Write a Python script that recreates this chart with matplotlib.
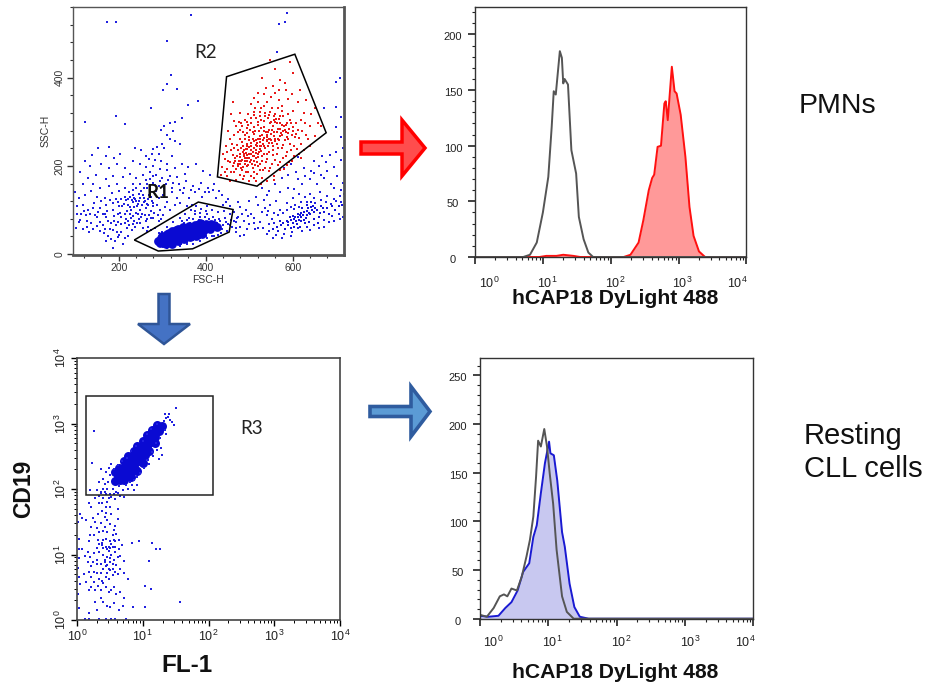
import numpy as np
import matplotlib
matplotlib.use('Agg')
import matplotlib.pyplot as plt
from matplotlib.patches import FancyArrow, Polygon, Rectangle
from matplotlib.ticker import FixedLocator, MultipleLocator, NullFormatter

plt.rcParams['font.family'] = ['Liberation Sans', 'DejaVu Sans']
W, H = 929, 692

# FSC-H / SSC-H, scattered events outside the dense clusters
scatter_far = [(174,527),(193,525),(367,541),(588,547),(583,525),(568,522),(310,482),(565,457),(321,406),(310,386),
 (302,371),(335,374),(382,348),(359,338),(275,332),(193,314),(123,299),(215,294),(708,399),(699,391),(699,334),
 (710,310),(700,289),(710,265),(672,331),(345,308),(330,300),(318,296),(305,290),(298,282),(325,278),(312,270),
 (318,262),(330,256),(340,250),(300,250),(288,243),(280,238),(305,240),(276,226),(292,228),(262,222),(270,215),
 (284,214),(298,212),(310,205),(322,222),(252,236),(238,240),(178,242),(152,240),(138,225),(170,222),(190,218),
 (204,228),(122,212),(135,200),(160,205),(178,196),(196,205),(215,196),(232,210),(248,205),(262,198),(280,200),
 (294,192),(312,190),(330,196),(345,205),(360,198),(378,205),(395,188),(410,180),(352,182),(335,175),(318,178),
 (300,172),(286,180),(272,185),(256,180),(240,172),(226,182),(210,175),(188,178),(170,170),(148,180),(130,172),
 (110,185),(118,160),(140,158),(158,150),(178,155),(196,160),(214,150),(232,158),(250,160),(262,168),(278,162),
 (292,155),(308,160),(322,150),(338,158),(355,165),(372,155),(390,162),(405,150),(420,158),(100,140),(108,128),
 (122,135),(136,142),(150,130),(168,128),(184,138),(200,142),(215,130),(224,140),(232,145),(240,150),(246,136),
 (252,142),(258,128),(266,150),(270,135),(276,120),(285,142),(292,128),(302,135),(312,118),(322,140),(334,128),
 (348,138),(362,128),(376,140),(392,130),(408,140),(424,128),(438,135),(452,125),(105,108),(118,112),(130,100),
 (144,115),(158,105),(172,112),(186,100),(198,118),(208,108),(216,122),(222,112),(228,100),(234,118),(238,126),
 (242,108),(246,120),(250,100),(254,112),(258,118),(262,104),(268,112),(274,98),(280,108),(288,112),(296,100),
 (306,106),(318,100),(330,112),(342,116),(356,108),(368,112),(440,112),(456,108),(112,78),(124,88),(136,70),
 (150,84),(164,92),(176,76),(190,86),(204,94),(216,80),(226,90),(236,76),(244,92),(252,84),(262,74),(270,88),
 (280,82),(292,76),(302,88),(102,60),(118,58),(132,50),(150,64),(166,48),(180,56),(194,66),(206,50),(218,60),
 (230,54),(170,30),(182,34),(198,38),(210,22),(186,14),(222,42),(238,62),(250,70),(268,62),(480,106),(492,100),
 (505,92),(475,84),(488,76),(500,68),(512,82),(480,62),(495,56),(470,50),(514,58),(520,112),(535,122),(530,96),
 (548,112),(562,120),(540,88),(525,72),(552,80),(570,100),(586,116),(600,128),(615,136),(632,118),(648,128),
 (662,140),(678,132),(695,125),(712,118),(720,100),(706,90),(690,86),(672,78),(650,66),(632,62),(612,60),
 (598,50),(580,46),(562,44),(546,52),(604,148),(622,158),(640,170),(656,160),(672,172),(688,160),(702,176),
 (716,162),(530,150),(546,142),(560,160),(575,172),(590,180),(608,186),(625,195),(642,188),(660,200),(676,208),
 (694,198),(710,214),(700,232),(686,225),(668,222),(650,210),(720,222),(716,240),(580,196),(596,204),(612,220)]

# second pass over the busiest part of the left and right background
scatter_far_more = [(232,134),(236,128),(240,120),(244,114),(248,128),(236,106),(230,122),(226,130),(222,124),(256,134),
 (260,120),(264,114),(268,124),(274,130),(280,116),(226,106),(220,98),(212,114),(206,124),(200,110),(194,124),(188,116),
 (180,122),(174,98),(168,92),(160,120),(152,96),(146,88),(140,104),(134,92),(128,76),(120,98),(114,90),(108,72),(104,92),
 (198,92),(206,84),(214,92),(222,74),(228,82),(234,86),(240,94),(246,80),(254,92),(260,88),(266,80),(274,82),(282,94),
 (290,88),(298,80),(156,72),(164,66),(172,84),(182,70),(190,76),(198,72),(206,68),(214,70),(224,66),(232,68),(242,70),
 (256,60),(264,52),(274,54),(284,60),(292,48),(188,54),(196,50),(168,58),(158,52),(142,58),(128,62),(176,42),(192,30),
 (200,44),(214,36),(272,170),(280,176),(264,158),(258,150),(284,156),(296,166),(304,150),(314,168),(326,162),(342,146),
 (350,150),(366,146),(384,148),(398,140),(416,146),(430,142),(446,118),(474,118),(466,96),(470,72),(484,90),(498,86),
 (510,70),(520,60),(532,60),(546,68),(558,70),(536,104),(544,98),(556,94),(566,88),(578,94),(586,100),(596,106),(606,112),
 (618,118),(628,130),(640,136),(652,116),(664,122),(676,118),(688,114),(700,120),(708,132),(718,136),(604,102),(614,106),
 (660,60),(672,62),(684,72),(696,74),(708,80),(716,84),(640,54),(622,52),(596,42),(576,36),(554,36),(542,46),(500,120),
 (515,130),(540,135),(572,140),(590,150),(612,170),(628,176),(648,184),(664,180),(680,188),(696,150),(710,146),(720,150)]

# events around the R1 lymphocyte cluster
scatter_r1 = [(300,50),(312,62),(325,72),(340,82),(352,90),(366,100),(378,110),(390,102),(402,110),(415,100),(428,96),
 (442,98),(455,92),(362,82),(376,90),(388,84),(402,92),(416,84),(430,80),(444,82),(458,78),(334,62),(350,70),(320,48),
 (290,22),(285,32),(296,18),(310,14),(325,16),(340,18),(356,22),(372,24),(388,30),(404,36),(420,42),(436,48),(450,52),
 (460,62),(464,76),(440,66),(426,70),(410,72),(395,76),(380,72),(365,70),(452,68),(470,60),(478,40),(472,82),(488,44),
 (346,76),(356,78),(372,80),(384,78),(398,84),(408,80),(422,78),(434,74),(446,72),(456,66),(412,50),(424,54),(438,58),
 (428,44),(414,40),(400,40),(386,36),(372,32),(358,28),(344,24),(330,22),(316,20),(302,16),(400,98),(388,94),(376,98)]

# dense core of R1, drawn with a heavier marker
core_r1 = [(290,30),(296,26),(302,34),(306,28),(312,38),(316,30),(320,42),(326,34),(330,46),(334,38),(340,50),(344,40),
 (350,52),(354,44),(360,56),(364,46),(370,58),(374,48),(380,60),(384,52),(392,62),(396,54),(404,64),(410,58),(420,66),
 (426,62),(300,42),(310,46),(322,52),(336,58),(348,62),(362,64),(376,66),(388,70),(308,22),(322,24),(336,30),(350,34),
 (364,38),(378,42),(392,46),(298,36),(316,48),(332,54),(344,56),(358,60),(372,62),(384,64),(400,68),(412,68)]

# granulocyte-side cluster, bottom right
scatter_right = [(555,58),(566,52),(574,66),(582,58),(590,72),(596,60),(604,80),(610,68),(616,88),(620,74),(626,96),
 (630,82),(636,104),(640,90),(646,110),(650,96),(656,100),(660,84),(666,108),(672,96),(678,104),(684,92),(690,110),
 (698,100),(706,108),(714,112),(600,86),(612,92),(622,104),(632,112),(642,118),(586,76),(594,84),(570,74),(604,62),
 (616,62),(628,70),(638,72),(648,80),(658,70),(600,70),(608,76),(614,78),(620,84),(625,78),(632,88),(638,94),(644,100),
 (618,94),(624,88),(634,98),(642,106),(652,104),(662,94),(670,104),(606,84),(612,84),(596,78),(590,66),(578,70),(564,62)]

# events inside R2
red_r2 = [(548,440),(560,420),(595,435),(600,410),(530,398),(572,395),(555,380),(585,372),(535,362),(550,355),(520,345),
 (568,350),(590,352),(612,345),(505,340),(480,320),(462,345),(535,335),(552,330),(575,335),(600,325),(625,320),(652,330),
 (510,322),(525,312),(545,315),(560,318),(578,312),(595,305),(618,305),(640,290),(490,305),(505,298),(520,300),(535,302),
 (550,300),(562,306),(572,298),(585,292),(600,288),(612,282),(630,270),(652,268),(470,290),(480,282),(495,285),(510,288),
 (522,280),(535,288),(545,282),(555,290),(566,284),(578,278),(590,275),(605,265),(620,250),(640,245),(465,270),(478,262),
 (490,270),(500,265),(512,272),(520,262),(530,270),(540,265),(550,272),(560,262),(570,268),(582,258),(595,250),(610,238),
 (460,250),(472,248),(484,255),(495,245),(505,252),(515,248),(525,255),(535,245),(545,252),(555,245),(565,250),(575,240),
 (588,232),(602,222),(618,218),(450,232),(462,225),(474,235),(486,232),(495,225),(505,236),(515,230),(525,238),(535,228),
 (545,232),(555,225),(565,228),(578,218),(592,208),(445,215),(455,208),(468,218),(480,220),(490,210),(500,218),(510,212),
 (520,220),(530,210),(540,215),(552,205),(566,202),(580,192),(438,198),(450,192),(462,200),(474,205),(486,198),(498,202),
 (508,195),(520,200),(532,190),(545,188),(558,178),(436,180),(450,176),(465,185),(478,180),(492,186),(505,178),(518,182),
 (530,172),(540,165),(470,168),(486,170),(500,165),(515,165),(455,165),(495,238),(500,242),(505,228),(512,240),(518,244),
 (528,246),(488,222),(492,238),(500,258),(508,262),(516,258),(524,268),(532,258),(538,276),(546,262),(552,282),(558,276),
 (548,296),(556,304),(564,296),(544,276),(490,218),(496,212),(482,210),(476,212),(508,222),(516,218),(522,232)]

# heavy centre of R2, second pass
red_r2_more = [(480,205),(484,214),(488,226),(492,230),(496,218),(500,226),(504,214),(508,232),(512,222),(516,236),(520,228),
 (524,244),(528,234),(532,250),(536,240),(540,256),(544,244),(548,262),(552,252),(556,268),(560,256),(564,276),(568,258),
 (572,284),(576,270),(580,290),(584,276),(588,296),(592,284),(596,298),(540,270),(534,278),(528,286),(520,292),(514,280),
 (508,276),(502,282),(496,274),(490,262),(486,246),(482,240),(478,228),(472,222),(468,212),(464,206),(494,200),(506,205),
 (518,208),(530,222),(542,226),(554,236),(566,240),(578,248),(586,266),(598,270),(560,300),(570,312),(544,308),(536,320),
 (528,304),(516,308),(498,292),(486,276),(474,276),(466,240),(458,236),(452,210),(444,186),(458,186),(470,192),(484,190),
 (498,186),(510,186),(524,190),(536,196),(548,196),(560,214),(572,208),(584,222),(596,236),(604,246),(614,264),(622,280),
 (628,296),(608,298),(590,318),(576,324),(566,330),(542,344),(528,330),(514,332),(498,318),(482,298),(520,366),(560,366),
 (475,200),(482,196),(490,204),(502,208),(514,202),(526,204),(538,208),(488,236),(494,250),(504,244),(510,256),(518,252),
 (526,262),(534,264),(542,258),(550,258),(558,268),(566,262),(574,274),(582,282),(590,262),(600,278),(608,272),(576,292),
 (568,306),(558,312),(548,322),(536,312),(524,322),(512,316),(504,308),(494,300),(484,290),(476,300),(466,302),(458,318),
 (452,280),(456,262),(446,244),(440,226),(512,354),(538,376),(568,372),(582,388),(598,362),(616,372),(630,350),(642,318),
 (658,296),(666,290),(636,262),(626,236),(614,228),(598,212),(586,202),(572,190),(556,168),(528,160),(510,172),(488,176)]

# FL-1 / CD19 as log10 decades, events inside and above the R3 diagonal
cd19_core = [(0.62,2.20),(0.68,2.24),(0.72,2.32),(0.78,2.38),(0.82,2.30),(0.84,2.46),(0.88,2.40),(0.90,2.52),(0.94,2.48),
 (0.96,2.60),(1.00,2.56),(1.02,2.66),(1.06,2.64),(1.08,2.74),(1.12,2.72),(1.14,2.80),(1.18,2.80),(1.20,2.88),(1.24,2.88),
 (1.26,2.94),(1.30,2.96),(0.58,2.12),(0.66,2.14),(0.74,2.20),(0.80,2.24),(0.88,2.30),(0.96,2.42),(1.04,2.52),(0.58,2.26),
 (0.64,2.32),(0.72,2.42),(0.78,2.50),(0.86,2.58),(0.92,2.66),(1.00,2.74),(1.06,2.82),(1.14,2.90),(1.22,2.98),(0.72,2.14),
 (0.82,2.18),(0.92,2.28),(1.00,2.40),(1.10,2.58),(1.18,2.70)]
cd19_edge = [(0.47,2.10),(0.50,2.22),(0.54,2.00),(0.56,2.30),(0.60,1.96),(0.62,2.36),(0.64,2.04),(0.68,2.42),(0.70,1.98),
 (0.74,2.06),(0.76,2.48),(0.80,2.10),(0.82,2.58),(0.86,2.14),(0.90,2.66),(0.92,2.18),(0.96,2.24),(1.00,2.74),(1.02,2.32),
 (1.06,2.84),(1.08,2.44),(1.12,2.92),(1.14,2.56),(1.20,2.70),(1.22,3.00),(1.26,2.78),(1.32,3.04),(1.34,2.90),(1.36,3.08),
 (1.38,3.10),(1.40,3.14),(1.44,3.02),(1.48,2.97),(1.24,2.46),(1.28,2.62),(1.30,2.52),(1.50,3.24),(0.40,2.00),(0.36,1.96),
 (0.44,1.92),(0.48,1.86),(0.52,1.88),(0.58,1.84),(0.66,1.90),(0.72,1.88),(0.34,2.10),(0.40,2.16),(0.44,2.26),(0.20,1.98),
 (0.26,2.88),(0.23,2.40),(0.36,2.30),(0.86,1.98),(0.92,2.06),(1.10,2.38),(0.46,2.00),(0.50,1.92),(0.42,2.08),(0.56,1.92),
 (0.62,1.94),(0.78,2.00),(0.84,2.06),(0.48,2.32),(0.52,2.38),(1.16,2.50),(1.22,2.60),(1.36,2.84),(1.42,3.06),(1.34,3.14)]
cd19_low = [(0.05,1.62),(0.02,1.50),(0.08,1.56),(0.14,1.52),(0.22,1.42),(0.20,1.30),(0.18,1.20),(0.26,1.30),(0.30,1.40),
 (0.32,1.22),(0.38,1.18),(0.40,1.10),(0.44,1.24),(0.46,1.34),(0.50,1.20),(0.54,1.30),(0.58,1.20),(0.60,1.32),(0.64,1.22),
 (0.36,1.48),(0.42,1.58),(0.44,1.72),(0.38,1.66),(0.34,1.78),(0.46,1.80),(0.52,1.62),(0.50,1.46),(0.62,1.54),(0.34,1.90),
 (0.28,1.86),(0.18,1.78),(0.22,1.72),(0.40,1.86),(0.62,1.70),(0.03,1.24),(0.03,1.08),(0.03,0.95),(0.02,0.80),(0.03,0.65),
 (0.05,0.55),(0.02,0.40),(0.03,0.18),(0.08,1.08),(0.12,0.98),(0.16,1.04),(0.20,0.96),(0.24,0.88),(0.26,1.02),(0.30,0.92),
 (0.34,1.04),(0.36,0.86),(0.40,1.00),(0.42,0.92),(0.44,0.82),(0.46,0.96),(0.48,1.06),(0.50,0.88),(0.52,1.00),(0.54,0.78),
 (0.56,0.92),(0.58,1.04),(0.60,0.84),(0.62,0.96),(0.64,1.08),(0.66,0.98),(0.68,1.14),(0.72,0.90),(0.38,1.14),(0.44,1.12),
 (0.48,1.12),(0.54,1.12),(0.58,1.12),(0.36,0.72),(0.40,0.78),(0.46,0.72),(0.50,0.76),(0.54,0.68),(0.58,0.74),(0.62,0.70),
 (0.66,0.78),(0.72,0.72),(0.78,0.62),(0.30,0.72),(0.26,0.74),(0.22,0.66),(0.18,0.74),(0.14,0.58),(0.10,0.70),(0.18,0.46),
 (0.22,0.50),(0.28,0.46),(0.32,0.52),(0.36,0.46),(0.40,0.56),(0.44,0.50),(0.48,0.42),(0.52,0.46),(0.56,0.50),(0.60,0.40),
 (0.66,0.42),(0.72,0.34),(0.36,0.34),(0.40,0.28),(0.28,0.28),(0.30,0.16),(0.46,0.22),(0.50,0.20),(0.56,0.26),(0.64,0.16),
 (0.70,0.22),(0.18,0.10),(0.12,0.02),(0.18,0.02),(0.34,0.02),(0.44,0.02),(0.52,0.02),(0.58,0.02),(0.74,0.02),(0.85,0.20),
 (0.84,1.18),(0.95,1.20),(1.14,1.18),(1.20,1.08),(1.26,1.08),(1.10,0.90),(1.03,0.52),(1.12,0.48),(1.03,0.20),(1.56,0.27),
 (0.30,1.10),(0.34,1.16),(0.40,1.22),(0.46,1.08),(0.50,1.10),(0.52,1.16),(0.56,1.22),(0.42,0.88),(0.46,0.84),(0.48,0.78),
 (0.50,0.94),(0.54,0.86),(0.44,0.66),(0.48,0.62),(0.38,0.60),(0.34,0.62),(0.26,0.58),(0.30,0.86),(0.22,0.82),(0.16,0.88),
 (0.42,1.42),(0.46,1.52),(0.40,1.36),(0.34,1.34),(0.28,1.50),(0.24,1.56),(0.32,1.62),(0.58,1.44),(0.56,1.38),(0.36,1.94),
 (0.42,1.96),(0.50,1.72),(0.44,1.64),(0.38,1.78),(0.30,1.98)]

# histogram traces, x in log10 decades
pmn_grey_x = [0,0.71,0.81,0.91,1.0,1.08,1.13,1.16,1.19,1.25,1.28,1.30,1.32,1.37,1.42,1.49,1.53,1.60,1.67,1.74,4]
pmn_grey_y = [0,0,2,13,40,72,117,149,146,185,179,156,160,155,96,75,36,16,4,0,0]
pmn_red_x = [0,0.95,1.05,1.20,1.30,1.45,1.55,2.19,2.29,2.41,2.48,2.56,2.61,2.64,2.69,2.74,2.79,2.81,2.84,2.90,2.94,2.97,3.03,3.10,3.16,3.22,3.30,3.39,4]
pmn_red_y = [0,0,1,1,2,1,0,0,2,13,33,60,71,74,99,100,138,140,123,171,149,147,128,90,45,19,5,0,0]
cll_grey_x = [0,0.10,0.20,0.29,0.35,0.40,0.46,0.54,0.61,0.68,0.73,0.78,0.82,0.85,0.89,0.94,0.98,1.02,1.07,1.12,1.20,1.27,1.37,4]
cll_grey_y = [4,2,11,23,25,23,31,29,43,64,81,105,146,183,177,195,177,149,118,71,23,7,0,0]
cll_blue_x = [0,0.12,0.27,0.37,0.46,0.55,0.63,0.72,0.78,0.83,0.89,0.95,1.01,1.03,1.08,1.13,1.20,1.24,1.31,1.38,1.46,1.59,4]
cll_blue_y = [3,2,3,11,17,29,48,57,84,96,129,160,182,170,168,142,89,74,36,12,2,0,0]

gate_r1 = [(236,32),(291,7),(370,12),(454,50),(463,101),(383,118)]
gate_r2 = [(448,402),(605,453),(677,275),(518,154),(427,175)]
gate_r3 = (1.35, 82, 116, 2650)

decade_ticks = [1, 10, 100, 1000, 10000]
hist_xlabels = ['$\\mathregular{10^{%d}}$' % i for i in range(5)]


def panel(l, t, r, b):
    return fig.add_axes([l / W, 1 - b / H, (r - l) / W, (b - t) / H])


def offset_label(ax, s, xy, trans, dx, dy, **kw):
    # label placed dx, dy pixels from its tick (original software does not centre them)
    ax.annotate(s, xy, xycoords=trans, xytext=(dx * 0.72, -dy * 0.72), textcoords='offset points',
                ha='center', va='center', color='#222222', **kw)


def log_minor():
    return FixedLocator([m * 10 ** d for d in range(4) for m in range(2, 10)])


def hist_panel(ax, ytop, yticks, grey, fill_line, fill_col, line_col, xoffs, label_dy):
    ax.set_xscale('log')
    ax.set_xlim(1, 10000)
    ax.set_ylim(0, ytop)
    fx, fy = fill_line
    ax.fill_between(10 ** np.array(fx), fy, color=fill_col, lw=0)
    ax.plot(10 ** np.array(fx), fy, color=line_col, lw=1.4)
    ax.plot(10 ** np.array(grey[0]), grey[1], color='#555555', lw=1.4)
    ax.set_xticks(decade_ticks)
    ax.set_xticklabels([])
    ax.xaxis.set_minor_locator(log_minor())
    ax.xaxis.set_minor_formatter(NullFormatter())
    ax.set_yticks(yticks)
    ax.set_yticklabels([])
    ax.yaxis.set_minor_locator(MultipleLocator(10))
    ax.tick_params(axis='both', which='major', length=5, width=1.2, color='#222222')
    ax.tick_params(axis='both', which='minor', length=2.5, width=0.8, color='#222222')
    for v in yticks:
        offset_label(ax, str(v), (0, v), ax.get_yaxis_transform(), -22, 3, fontsize=8)
    for tick, s, dx in zip(decade_ticks, hist_xlabels, xoffs):
        offset_label(ax, s, (tick, 0), ax.get_xaxis_transform(), dx, label_dy, fontsize=9)
    for sp in ax.spines.values():
        sp.set_linewidth(1.0)
        sp.set_color('#333333')


fig = plt.figure(figsize=(W / 100, H / 100), dpi=100)

# top left, FSC / SSC dot plot
ax1 = panel(73, 7, 344, 255)
far = np.array(scatter_far + scatter_far_more)
r1 = np.array(scatter_r1)
core = np.array(core_r1)
right = np.array(scatter_right)
red = np.array(red_r2 + red_r2_more)
for pts in (far, r1):
    ax1.scatter(pts[:, 0], pts[:, 1], s=1.8, marker='s', color='#2020e0', lw=0)
ax1.scatter(core[:, 0], core[:, 1], s=40, marker='o', color='#0a0ad2', lw=0)
ax1.scatter(right[:, 0], right[:, 1], s=4, marker='s', color='#1414d8', lw=0)
ax1.scatter(red[:, 0], red[:, 1], s=2.6, marker='s', color='#e81818', lw=0)
ax1.add_patch(Polygon(gate_r1, closed=True, fill=False, ec='black', lw=1.1))
ax1.add_patch(Polygon(gate_r2, closed=True, fill=False, ec='black', lw=1.1))
ax1.set_xlim(95, 718)
ax1.set_ylim(-2, 560)
ax1.set_xticks([200, 400, 600])
ax1.set_yticks([0, 200, 400])
ax1.xaxis.set_minor_locator(MultipleLocator(40))
ax1.yaxis.set_minor_locator(MultipleLocator(40))
ax1.tick_params(axis='both', which='major', length=4, width=1, labelsize=7.5, pad=2, color='#333333', labelcolor='#333333')
ax1.tick_params(axis='both', which='minor', length=2, width=0.8, color='#333333')
plt.setp(ax1.get_yticklabels(), rotation=90, va='center')
ax1.set_xlabel('FSC-H', fontsize=7.5, labelpad=1, color='#333333')
ax1.set_ylabel('SSC-H', fontsize=7.5, labelpad=3, color='#333333')
for name, sp in ax1.spines.items():
    sp.set_color('#555555')
    sp.set_linewidth(2 if name in ('right', 'bottom') else 1)

# bottom left, FL-1 / CD19 dot plot
ax3 = panel(77, 358, 340, 620)
ccore = np.array(cd19_core)
cedge = np.array(cd19_edge)
clow = np.array(cd19_low)
ax3.set_xscale('log')
ax3.set_yscale('log')
ax3.scatter(10 ** ccore[:, 0], 10 ** ccore[:, 1], s=42, color='#0a0ad2', lw=0, zorder=2)
for pts in (cedge, clow):
    ax3.scatter(10 ** pts[:, 0], 10 ** pts[:, 1], s=2.2, marker='s', color='#2020e0', lw=0, zorder=2)
rx0, ry0, rx1, ry1 = gate_r3
ax3.add_patch(Rectangle((rx0, ry0), rx1 - rx0, ry1 - ry0, fill=False, ec='#222222', lw=1.1, zorder=3))
ax3.set_xlim(1, 10000)
ax3.set_ylim(1, 10000)
ax3.set_xticks(decade_ticks)
ax3.set_yticks(decade_ticks)
ax3.set_xticklabels(hist_xlabels)
ax3.set_yticklabels(hist_xlabels)
ax3.xaxis.set_minor_locator(log_minor())
ax3.yaxis.set_minor_locator(log_minor())
ax3.xaxis.set_minor_formatter(NullFormatter())
ax3.yaxis.set_minor_formatter(NullFormatter())
ax3.tick_params(axis='both', which='major', length=4, width=1, labelsize=9, pad=2, labelcolor='#222222')
ax3.tick_params(axis='both', which='minor', length=2, width=0.7)
plt.setp(ax3.get_yticklabels(), rotation=90, va='center')
for sp in ax3.spines.values():
    sp.set_color('#444444')
    sp.set_linewidth(1.2)

# right column, histograms
ax2 = panel(475, 7, 746.5, 257)
hist_panel(ax2, 224.7, [0, 50, 100, 150, 200], (pmn_grey_x, pmn_grey_y), (pmn_red_x, pmn_red_y),
           '#ff9999', '#ff1010', [14, 4, 4, 4, -9], 26)
ax4 = panel(480, 357.5, 753.5, 618.7)
hist_panel(ax4, 268.5, [0, 50, 100, 150, 200, 250], (cll_grey_x, cll_grey_y), (cll_blue_x, cll_blue_y),
           '#c8c8f0', '#1a1ad2', [13, 4, 4, 5, -8], 24)

# whole figure overlay in pixel coordinates, for arrows and free text
ov = fig.add_axes([0, 0, 1, 1], zorder=10)
ov.set_xlim(0, W)
ov.set_ylim(H, 0)
ov.axis('off')
ov.add_patch(FancyArrow(361, 148, 41, 0, width=12, head_width=56, head_length=23, length_includes_head=False,
                        fc='#ff4d4d', ec='#ff0000', lw=2.5))
ov.add_patch(FancyArrow(164, 294, 0, 30, width=11, head_width=52, head_length=20, length_includes_head=False,
                        fc='#4472c4', ec='#2f5597', lw=1.8))
ov.add_patch(FancyArrow(370, 411.5, 41, 0, width=10, head_width=50, head_length=19, length_includes_head=False,
                        fc='#5b9bd5', ec='#2f5c9f', lw=2.6))

label_font = ['Lato', 'DejaVu Sans']
ov.text(206, 53, 'R2', fontsize=13.5, family=label_font, ha='center', va='center', color='#222222')
ov.text(158, 192, 'R1', fontsize=13.5, family=label_font, fontweight='bold', ha='center', va='center', color='#111111')
ov.text(252, 429, 'R3', fontsize=13.5, family=label_font, ha='center', va='center', color='#222222')
ov.text(799, 106, 'PMNs', fontsize=20.5, ha='left', va='center', color='#111111')
ov.text(804, 436, 'Resting', fontsize=21, ha='left', va='center', color='#111111')
ov.text(804, 469, 'CLL cells', fontsize=21, ha='left', va='center', color='#111111')
ov.text(615.5, 299, 'hCAP18 DyLight 488', fontsize=15.2, fontweight='bold', ha='center', va='center', color='#111111')
ov.text(615.5, 673, 'hCAP18 DyLight 488', fontsize=15.2, fontweight='bold', ha='center', va='center', color='#111111')
ov.text(187, 665, 'FL-1', fontsize=17.5, fontweight='bold', ha='center', va='center', color='#111111')
ov.text(24, 489, 'CD19', fontsize=16.5, fontweight='bold', rotation=90, ha='center', va='center', color='#111111')

fig.savefig('out.png', dpi=100)
